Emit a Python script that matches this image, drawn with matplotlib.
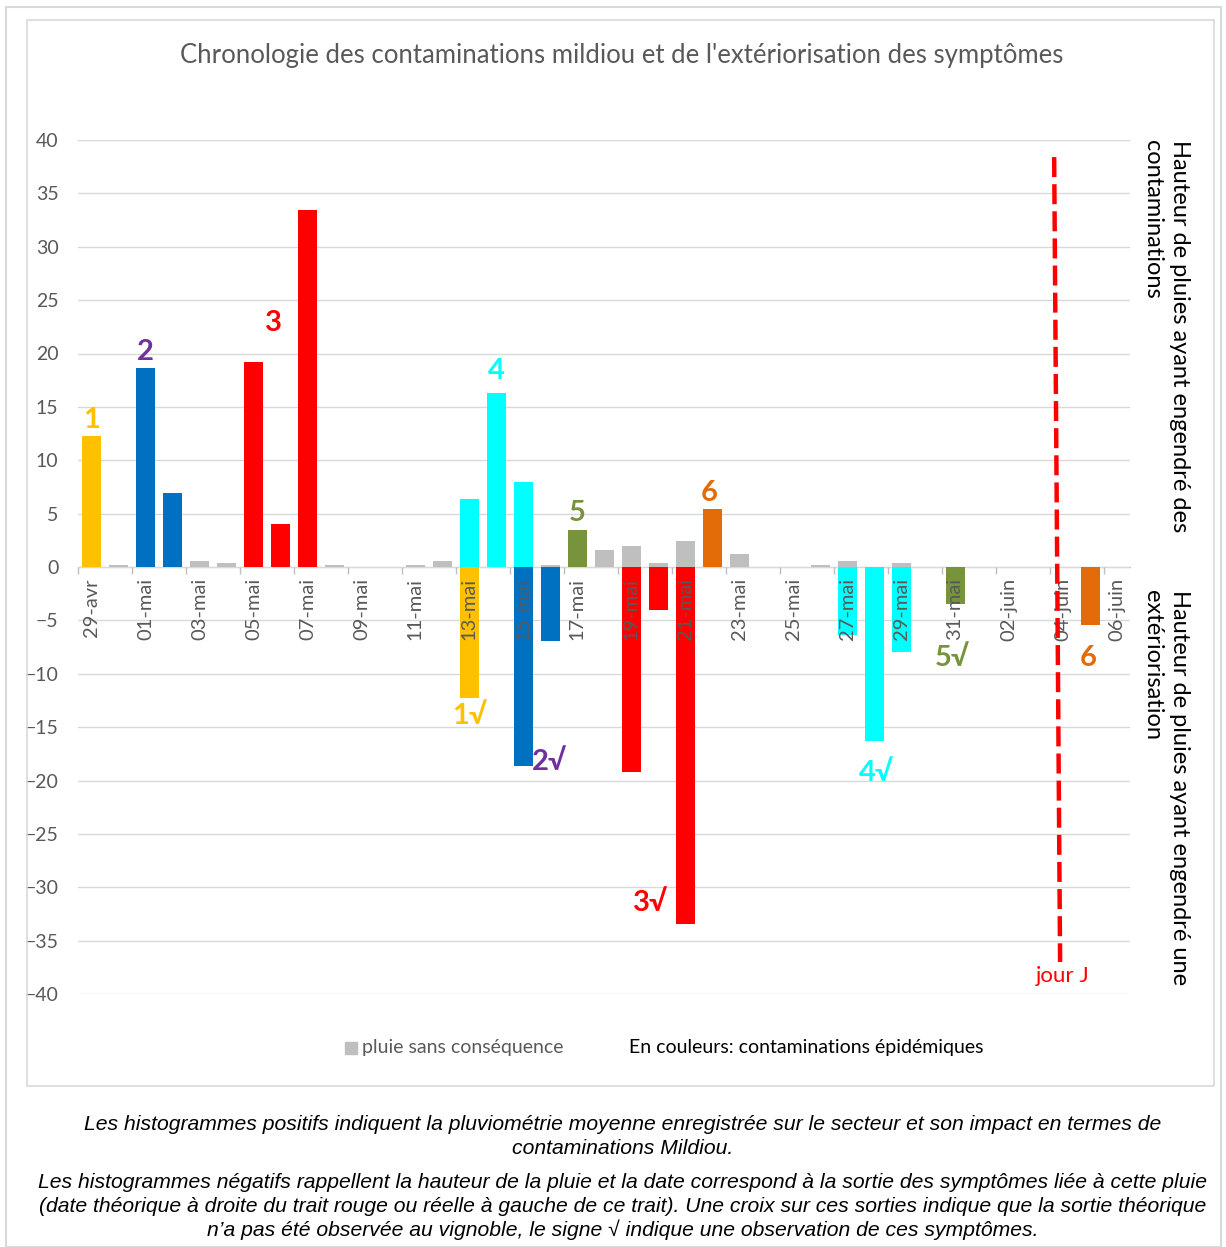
import matplotlib
matplotlib.use("Agg")
import matplotlib.pyplot as plt
from matplotlib.patches import Rectangle

# Données
dates = ["29-avr", "30-avr"] + ["%02d-mai" % d for d in range(1, 32)] + ["%02d-juin" % d for d in range(1, 7)]

# pluie (mm) par jour et numéro de contamination (0 = pluie sans conséquence)
pluie = [12.3, 0.2, 18.6, 6.9, 0.6, 0.4, 19.2, 4.0, 33.4, 0.2,
         0, 0, 0.2, 0.6, 6.4, 16.3, 8.0, 0.2, 3.5, 1.6,
         2.0, 0.4, 2.4, 5.4, 1.2, 0, 0, 0.2, 0.6, 0,
         0.4, 0, 0, 0, 0, 0, 0, 0, 0]
contam = [1, 0, 2, 2, 0, 0, 3, 3, 3, 0,
          0, 0, 0, 0, 4, 4, 4, 0, 5, 0,
          0, 0, 0, 6, 0, 0, 0, 0, 0, 0,
          0, 0, 0, 0, 0, 0, 0, 0, 0]

# sorties de symptômes (histogrammes négatifs)
sortie_jour = ["13-mai", "15-mai", "16-mai", "19-mai", "20-mai", "21-mai",
               "27-mai", "28-mai", "29-mai", "31-mai", "05-juin"]
sortie_val = [-12.3, -18.6, -6.9, -19.2, -4.0, -33.4, -6.4, -16.3, -8.0, -3.5, -5.4]
sortie_num = [1, 2, 2, 3, 3, 3, 4, 4, 4, 5, 6]

couleurs = {0: "#BFBFBF", 1: "#FFC000", 2: "#0070C0", 3: "#FF0000",
            4: "#00FFFF", 5: "#77933C", 6: "#E36C09"}
couleurs_txt = {1: "#FFC000", 2: "#7030A0", 3: "#FF0000", 4: "#00FFFF",
                5: "#77933C", 6: "#E36C09"}

# étiquettes des contaminations: (texte, position, y, numéro)
etiquettes = [("1", 0, 13.8, 1), ("2", 2, 20.1, 2), ("3", 6.75, 22.9, 3),
              ("4", 15, 18.4, 4), ("5", 18, 5.1, 5), ("6", 22.9, 6.9, 6),
              ("1√", 14, -14.0, 1), ("2√", 16.95, -18.3, 2), ("3√", 20.7, -31.5, 3),
              ("4√", 29.1, -19.3, 4), ("5√", 31.9, -8.5, 5), ("6", 36.95, -8.5, 6)]

police = ["Lato", "DejaVu Sans"]
gris = "#595959"
plt.rcParams["font.family"] = police

fig = plt.figure(figsize=(12.26, 12.47), dpi=100)
W, H = 1226, 1247

# cadres
fig.add_artist(Rectangle((6 / W, 0), (1221 - 6) / W, 1 - 7 / H, transform=fig.transFigure,
                         fill=False, ec="#D9D9D9", lw=1.5))
fig.add_artist(Rectangle((27 / W, 1 - 1086 / H), (1214 - 27) / W, (1086 - 20) / H,
                         transform=fig.transFigure, fill=False, ec="#D9D9D9", lw=1.2))

ax = fig.add_axes([78 / W, 1 - 994 / H, (1130 - 78) / W, (994 - 140) / H])

x = list(range(len(dates)))
ax.bar(x, pluie, width=0.7, color=[couleurs[c] for c in contam], zorder=1)
xs = [dates.index(d) for d in sortie_jour]
ax.bar(xs, sortie_val, width=0.7, color=[couleurs[c] for c in sortie_num], zorder=1)

for txt, pos, y, n in etiquettes:
    ax.text(pos, y, txt, color=couleurs_txt[n], fontsize=21, fontweight="bold",
            ha="center", va="center", zorder=4)

# trait rouge: jour J
ax.plot([35.67, 35.89], [38.4, -37.0], color="#FF0000", lw=3.2, ls=(0, (4.5, 1.6)), zorder=3)
ax.text(36.0, -38.3, "jour J", color="#FF0000", fontsize=16, ha="center", va="center")

ax.set_xlim(-0.48, 38.48)
ax.set_ylim(-40, 40)
ax.set_yticks(range(-40, 41, 5))
ax.tick_params(axis="y", length=0, pad=14, labelsize=14, labelcolor=gris)
ax.grid(axis="y", color="#D9D9D9", lw=1)
ax.set_axisbelow(True)

ax.set_xticks(x[::2])
ax.set_xticks([i - 0.5 for i in x[::2]], minor=True)
ax.set_xticklabels(dates[::2])
ax.tick_params(axis="x", which="major", length=0, pad=8, labelrotation=90,
               labelsize=14.5, labelcolor=gris)
ax.tick_params(axis="x", which="minor", length=5, color="#BFBFBF", width=1)
ax.xaxis.set_zorder(2.5)

for s in ["top", "left", "right"]:
    ax.spines[s].set_visible(False)
ax.spines["bottom"].set_position(("data", 0))
ax.spines["bottom"].set_color("#BFBFBF")
ax.spines["bottom"].set_zorder(0.5)

# titre
fig.text(622 / W, 1 - 55 / H, "Chronologie des contaminations mildiou et de l'extériorisation des symptômes",
         ha="center", va="center", fontsize=18.5, color=gris)

# titres des axes à droite
fig.text(1166 / W, 1 - 140 / H, "Hauteur de pluies ayant engendré des\ncontaminations",
         rotation=-90, ha="center", va="top", multialignment="left", fontsize=17,
         color="black", linespacing=1.3)
fig.text(1166 / W, 1 - 590 / H, "Hauteur de pluies ayant engendré une\nextériorisation",
         rotation=-90, ha="center", va="top", multialignment="left", fontsize=17,
         color="black", linespacing=1.3)

# légende
fig.add_artist(Rectangle((345 / W, 1 - 1054 / H), 12 / W, 12 / H, transform=fig.transFigure,
                         color="#BFBFBF"))
fig.text(362 / W, 1 - 1048 / H, "pluie sans conséquence", ha="left", va="center",
         fontsize=14, color=gris)
fig.text(629 / W, 1 - 1048 / H, "En couleurs: contaminations épidémiques", ha="left",
         va="center", fontsize=14, color="black")

# commentaire
cap = dict(ha="center", va="center", fontsize=15.2, style="italic",
           family=["Liberation Sans", "DejaVu Sans"], color="black")
fig.text(623 / W, 1 - 1124 / H, "Les histogrammes positifs indiquent la pluviométrie moyenne "
         "enregistrée sur le secteur et son impact en termes de", **cap)
fig.text(623 / W, 1 - 1148 / H, "contaminations Mildiou.", **cap)
fig.text(623 / W, 1 - 1182 / H, "Les histogrammes négatifs rappellent la hauteur de la pluie et la "
         "date correspond à la sortie des symptômes liée à cette pluie", **cap)
fig.text(623 / W, 1 - 1206 / H, "(date théorique à droite du trait rouge ou réelle à gauche de ce "
         "trait). Une croix sur ces sorties indique que la sortie théorique", **cap)
fig.text(623 / W, 1 - 1230 / H, "n’a pas été observée au vignoble, le signe √ indique une "
         "observation de ces symptômes.", **cap)

fig.savefig("out.png", dpi=100)
